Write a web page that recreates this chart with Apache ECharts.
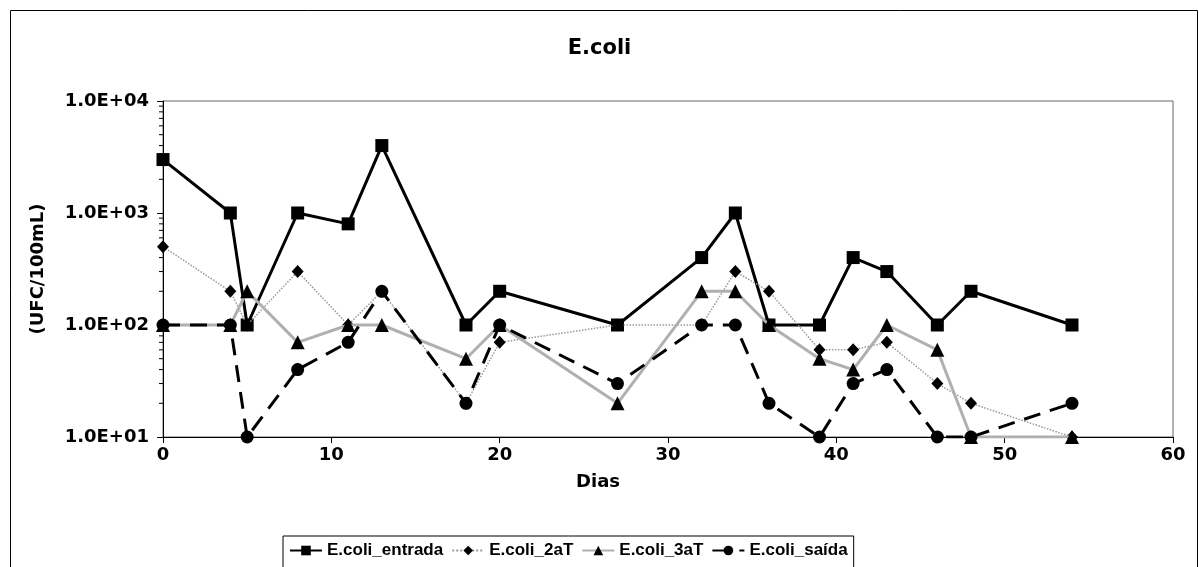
<!DOCTYPE html>
<html>
<head>
<meta charset="utf-8">
<script src="https://cdn.jsdelivr.net/npm/echarts@6/dist/echarts.min.js"></script>
<style>
html,body{margin:0;padding:0;background:#fff;}
#chart{width:1199px;height:567px;}
</style>
</head>
<body>
<div id="chart"></div>
<script>
// ---- data ----
const days = [0, 4, 5, 8, 11, 13, 18, 20, 27, 32, 34, 36, 39, 41, 43, 46, 48, 54];
const entrada = [3000, 1000, 100, 1000, 800, 4000, 100, 200, 100, 400, 1000, 100, 100, 400, 300, 100, 200, 100];
const t2aT    = [500, 200, 100, 300, 100, 200, 20, 70, 100, 100, 300, 200, 60, 60, 70, 30, 20, 10];
const t3aT    = [100, 100, 200, 70, 100, 100, 50, 100, 20, 200, 200, 100, 50, 40, 100, 60, 10, 10];
const saida   = [100, 100, 10, 40, 70, 200, 20, 100, 30, 100, 100, 20, 10, 30, 40, 10, 10, 20];
const seriesNames = ['E.coli_entrada', 'E.coli_2aT', 'E.coli_3aT', 'E.coli_saída'];
const yTickLabels = {10: '1.0E+01', 100: '1.0E+02', 1000: '1.0E+03', 10000: '1.0E+04'};
const minorTickValues = [20,30,40,50,60,70,80,90,200,300,400,500,600,700,800,900,2000,3000,4000,5000,6000,7000,8000,9000];

const pair = arr => days.map((d, i) => [d, arr[i]]);
const FONT = 'DejaVu Sans';
const LFONT = 'Liberation Sans';

const chart = echarts.init(document.getElementById('chart'), null, {renderer: 'canvas'});
const option = {
  animation: false,
  backgroundColor: '#fff',
  title: {
    text: 'E.coli', left: 'center', top: 33,
    textStyle: {fontFamily: FONT, fontWeight: 'bold', fontSize: 21, color: '#000'}
  },
  graphic: [{
    type: 'rect', shape: {x: 10.5, y: 10.5, width: 1187, height: 600},
    style: {fill: 'none', stroke: '#000', lineWidth: 1}, silent: true, z: -1
  }],
  grid: {left: 163, right: 26, top: 101, bottom: 130, show: true, borderColor: '#666', borderWidth: 1, backgroundColor: 'transparent'},
  legend: {
    data: seriesNames,
    left: 283, top: 536,
    borderColor: '#000', borderWidth: 1,
    padding: [6, 6, 20, 6],
    itemGap: 8, itemWidth: 32, itemHeight: 12,
    textStyle: {fontFamily: LFONT, fontWeight: 'bold', fontSize: 17, color: '#000'}
  },
  xAxis: {
    type: 'value', min: 0, max: 60, interval: 10,
    name: 'Dias', nameLocation: 'middle', nameGap: 36,
    nameTextStyle: {fontFamily: FONT, fontWeight: 'bold', fontSize: 18, color: '#000', padding: [0, 140, 0, 0]},
    axisLine: {lineStyle: {color: '#000', width: 1}},
    axisTick: {show: true, length: 6, lineStyle: {color: '#000'}},
    axisLabel: {fontFamily: FONT, fontWeight: 'bold', fontSize: 18, color: '#000', margin: 9},
    splitLine: {show: false}
  },
  yAxis: {
    type: 'log', logBase: 10, min: 10, max: 10000,
    name: '(UFC/100mL)', nameLocation: 'middle', nameGap: 116, nameRotate: 90,
    nameTextStyle: {fontFamily: FONT, fontWeight: 'bold', fontSize: 18, color: '#000'},
    axisLine: {show: true, lineStyle: {color: '#000', width: 1}},
    axisTick: {show: true, length: 6, lineStyle: {color: '#000'}},
    axisLabel: {fontFamily: FONT, fontWeight: 'bold', fontSize: 18, color: '#000', margin: 14,
      formatter: v => yTickLabels[Math.round(v)] || ''},
    splitLine: {show: false}
  },
  series: [
    {
      name: 'E.coli_entrada', type: 'line', data: pair(entrada),
      symbol: 'rect', symbolSize: 13,
      lineStyle: {color: '#000', width: 3},
      itemStyle: {color: '#000'}, z: 3
    },
    {
      name: 'E.coli_2aT', type: 'line', data: pair(t2aT),
      symbol: 'diamond', symbolSize: [12, 13],
      lineStyle: {color: '#999', width: 1.5, type: 'dotted'},
      itemStyle: {color: '#000'}, z: 4
    },
    {
      name: 'E.coli_3aT', type: 'line', data: pair(t3aT),
      symbol: 'triangle', symbolSize: 14,
      lineStyle: {color: '#b0b0b0', width: 3},
      itemStyle: {color: '#000'}, z: 5
    },
    {
      name: 'E.coli_saída', type: 'line', data: pair(saida),
      symbol: 'circle', symbolSize: 13,
      lineStyle: {color: '#000', width: 3, type: [17, 10]},
      itemStyle: {color: '#000'}, z: 6
    },
    {
      name: 'minorTicks', type: 'custom', silent: true, clip: false, z: 7,
      data: minorTickValues.map(v => [0, v]),
      renderItem: (params, api) => {
        const p = api.coord([api.value(0), api.value(1)]);
        return {type: 'line', shape: {x1: p[0] - 4, y1: p[1], x2: p[0], y2: p[1]},
          style: {stroke: '#000', lineWidth: 1}};
      },
      encode: {x: 0, y: 1}
    }
  ]
};
chart.setOption(option);
</script>
</body>
</html>
